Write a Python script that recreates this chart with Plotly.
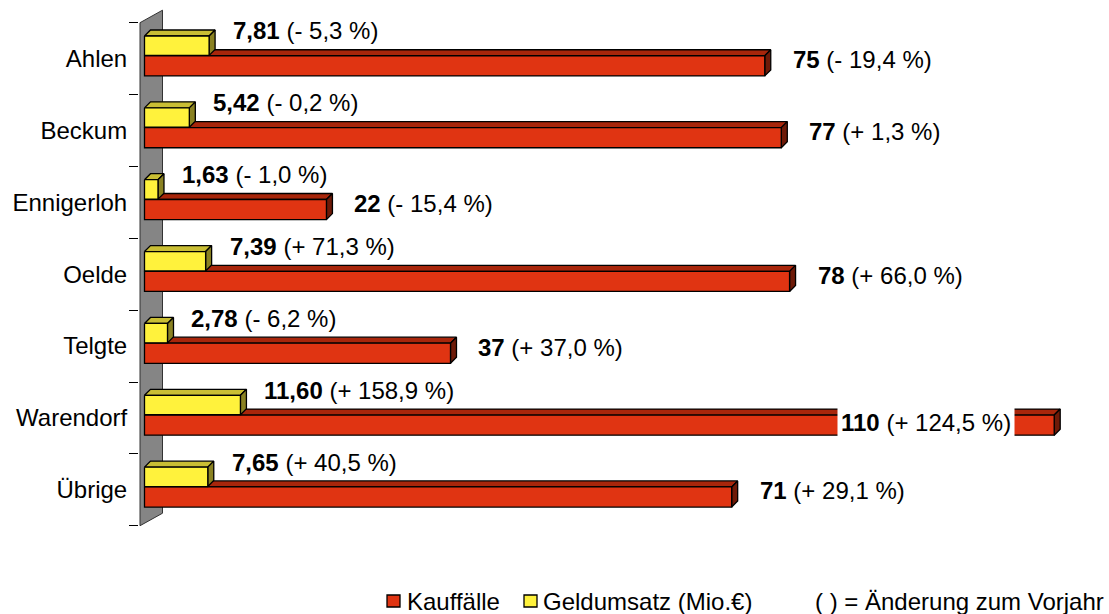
import plotly.graph_objects as go

categories = ["Ahlen", "Beckum", "Ennigerloh", "Oelde", "Telgte", "Warendorf", "Übrige"]
kauffaelle = [75, 77, 22, 78, 37, 110, 71]
kauffaelle_change = ["- 19,4", "+ 1,3", "- 15,4", "+ 66,0", "+ 37,0", "+ 124,5", "+ 29,1"]
geldumsatz = [7.81, 5.42, 1.63, 7.39, 2.78, 11.60, 7.65]
geldumsatz_change = ["- 5,3", "- 0,2", "- 1,0", "+ 71,3", "- 6,2", "+ 158,9", "+ 40,5"]

FONT = "Liberation Sans, Arial, sans-serif"

# page geometry (pixels)
W, H = 1109, 614
ML, MR, MT, MB = 139, 9, 5, 79
PX_X = 8.27     # pixels per unit on the value axis
PX_Y = 71.86    # pixels per category
ZERO_PX = 5.5   # bars start a bit right of the plot edge
plot_w = W - ML - MR
plot_h = H - MT - MB
x_range = [-ZERO_PX / PX_X, (plot_w - ZERO_PX) / PX_X]
y_top = -0.5 - 17.7 / PX_Y
y_range = [y_top + plot_h / PX_Y, y_top]

# 3d depth of the bars
DX = 6 / PX_X
DY = 6 / PX_Y


def de(v, nd):
    return f"{v:.{nd}f}".replace(".", ",")


def box_faces(values, band):
    """front / top / side polygons for 3d-looking horizontal bars"""
    front, top, side = ([], []), ([], []), ([], [])
    for i, v in enumerate(values):
        y0, y1 = i + band[0], i + band[1]
        for poly, xs, ys in (
            (front, [0, v, v, 0, 0], [y0, y0, y1, y1, y0]),
            (top, [0, v, v + DX, DX, 0], [y0, y0, y0 - DY, y0 - DY, y0]),
            (side, [v, v + DX, v + DX, v, v], [y0, y0 - DY, y1 - DY, y1, y0]),
        ):
            poly[0].extend(xs + [None])
            poly[1].extend(ys + [None])
    return front, top, side


def add_faces(fig, values, band, colors, name):
    front, top, side = box_faces(values, band)
    for (xs, ys), col in ((top, colors[1]), (side, colors[2]), (front, colors[0])):
        fig.add_trace(go.Scatter(
            x=xs, y=ys, mode="lines", fill="toself", fillcolor=col,
            line=dict(color="black", width=1.3), name=name,
            showlegend=False, hoverinfo="skip"))


fig = go.Figure()

# grey side wall
wx0, wx1 = -(ZERO_PX - 1) / PX_X, (ZERO_PX + 12.5) / PX_X
wdy = 12.5 / PX_Y
n = len(categories)
fig.add_trace(go.Scatter(
    x=[wx0, wx0, wx1, wx1, wx0],
    y=[-0.5, n - 0.5, n - 0.5 - wdy, -0.5 - wdy, -0.5],
    mode="lines", fill="toself", fillcolor="#858585",
    line=dict(color="#333333", width=1), showlegend=False, hoverinfo="skip"))

red = ("#E03412", "#A8260B", "#6E1A08")
yellow = ("#FFF23C", "#C9BE34", "#8A8222")
add_faces(fig, kauffaelle, (-0.040, 0.240), red, "Kauffälle")
add_faces(fig, geldumsatz, (-0.315, -0.045), yellow, "Geldumsatz (Mio.€)")

# value labels
for i, (v, c) in enumerate(zip(geldumsatz, geldumsatz_change)):
    fig.add_annotation(x=v + 22 / PX_X, y=i - 0.385, xanchor="left", yanchor="middle",
                       text=f"<b>{de(v, 2)}</b> ({c} %)", showarrow=False,
                       font=dict(size=24, color="black", family=FONT))
for i, (v, c) in enumerate(zip(kauffaelle, kauffaelle_change)):
    txt = f"<b>{v}</b> ({c} %)"
    if v == max(kauffaelle):
        # longest bar: label sits inside the bar on a white box
        fig.add_annotation(x=v - 128 / PX_X, y=i + 0.06, xanchor="center", yanchor="middle",
                           text=txt, showarrow=False, bgcolor="white", borderpad=3,
                           font=dict(size=24, color="black", family=FONT))
    else:
        fig.add_annotation(x=v + 26 / PX_X, y=i + 0.015, xanchor="left", yanchor="middle",
                           text=txt, showarrow=False,
                           font=dict(size=24, color="black", family=FONT))

# legend (drawn by hand so the spacing matches)
ly = (H - MB - 601) / plot_h
sq_h = 12 / plot_h
for x0, col, label, tx in ((387, red[0], "Kauffälle", 405),
                           (524, yellow[0], "Geldumsatz (Mio.€)", 541)):
    fig.add_shape(type="rect", xref="paper", yref="paper",
                  x0=(x0 - ML) / plot_w, x1=(x0 + 13 - ML) / plot_w,
                  y0=ly - sq_h / 2, y1=ly + sq_h / 2,
                  fillcolor=col, line=dict(color="black", width=1.3))
    fig.add_annotation(xref="paper", yref="paper", x=(tx - ML) / plot_w, y=ly,
                       xanchor="left", yanchor="middle", text=label, showarrow=False,
                       font=dict(size=24, color="black", family=FONT))
fig.add_annotation(xref="paper", yref="paper", x=(1106 - ML) / plot_w, y=ly,
                   xanchor="right", yanchor="middle", text="( ) = Änderung zum Vorjahr",
                   showarrow=False, font=dict(size=24, color="black", family=FONT))

fig.update_layout(
    width=W, height=H,
    margin=dict(l=ML, r=MR, t=MT, b=MB, autoexpand=False),
    plot_bgcolor="white", paper_bgcolor="white",
    showlegend=False,
    font=dict(family=FONT, size=24, color="black"),
    xaxis=dict(range=x_range, visible=False, fixedrange=True),
    yaxis=dict(range=y_range, tickmode="array", tickvals=list(range(n)),
               ticktext=categories, ticks="outside", ticklen=6,
               tickcolor="rgba(0,0,0,0)", showgrid=False, zeroline=False,
               showline=False, tickfont=dict(size=24, family=FONT), fixedrange=True,
               minor=dict(tickmode="array", tickvals=[k - 0.5 for k in range(n + 1)],
                          ticks="outside", ticklen=9, tickcolor="black", tickwidth=1.3,
                          showgrid=False)),
)

# the page body has a default 8px margin; drop it so the figure fills the window
fig.write_html("out.html", config={"displayModeBar": False},
               post_script="document.body.style.margin = '0px';")
